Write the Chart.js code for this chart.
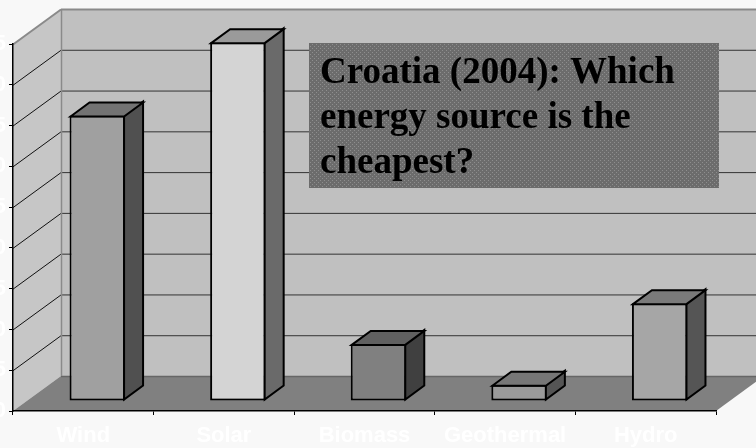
<!DOCTYPE html>
<html>
<head>
<meta charset="utf-8">
<title>Croatia (2004): Which energy source is the cheapest?</title>
<script src="https://cdn.jsdelivr.net/npm/chart.js@4.4.1/dist/chart.umd.min.js"></script>
<style>
    html, body { margin: 0; padding: 0; background: #f8f8f8; }
    #wrap { width: 756px; height: 448px; }
</style>
</head>
<body>
<div id="wrap"><canvas id="chart-1" width="756" height="448"></canvas></div>
<script>
var categories = ['Wind', 'Solar', 'Biomass', 'Geothermal', 'Hydro'];
var costValues = [35, 44, 7, 2, 12];
var tickValues = [0, 5, 10, 15, 20, 25, 30, 35, 40, 45];
var titleLines = ['Croatia (2004): Which', 'energy source is the', 'cheapest?'];

// face colours of the 3d columns
var frontColors = ['#a0a0a0', '#d4d4d4', '#808080', '#9a9a9a', '#a6a6a6'];
var sideColors = ['#505050', '#6a6a6a', '#404040', '#555555', '#555555'];
var topColors = ['#737373', '#9a9a9a', '#606060', '#777777', '#7a7a7a'];

var depth = { dx: 48, dy: -35 };     // floor depth, front edge -> back wall
var barShift = { dx: 14, dy: -10 };  // columns stand a bit behind the front edge
var barDepth = { dx: 19, dy: -14 };

function poly(ctx, pts, fill, stroke, lw) {
    ctx.beginPath();
    ctx.moveTo(pts[0][0], pts[0][1]);
    for (var i = 1; i < pts.length; i++) {
        ctx.lineTo(pts[i][0], pts[i][1]);
    }
    ctx.closePath();
    if (fill) {
        ctx.fillStyle = fill;
        ctx.fill();
    }
    if (stroke) {
        ctx.strokeStyle = stroke;
        ctx.lineWidth = lw || 1;
        ctx.stroke();
    }
}

function line(ctx, x1, y1, x2, y2, color, lw) {
    ctx.beginPath();
    ctx.moveTo(x1, y1);
    ctx.lineTo(x2, y2);
    ctx.strokeStyle = color;
    ctx.lineWidth = lw || 1;
    ctx.stroke();
}

var roomPlugin = {
    id: 'room',
    beforeDraw: function (chart) {
        var ctx = chart.ctx,
            a = chart.chartArea,
            yScale = chart.scales.y;

        ctx.save();
        ctx.fillStyle = '#f8f8f8';
        ctx.fillRect(0, 0, chart.width, chart.height);

        // back wall, left wall, floor
        ctx.fillStyle = '#c0c0c0';
        ctx.fillRect(a.left + depth.dx, a.top + depth.dy, a.right - a.left + 10, a.bottom - a.top);
        poly(ctx, [[a.left, a.top], [a.left + depth.dx, a.top + depth.dy],
            [a.left + depth.dx, a.bottom + depth.dy], [a.left, a.bottom]], '#c6c6c6');
        poly(ctx, [[a.left, a.bottom], [a.left + depth.dx, a.bottom + depth.dy],
            [a.right + depth.dx, a.bottom + depth.dy], [a.right, a.bottom]], '#808080');

        yScale.ticks.forEach(function (t) {
            var py = yScale.getPixelForValue(t.value) + 0.5;
            if (t.value === yScale.min) {
                line(ctx, a.left + depth.dx, py + depth.dy, a.right + depth.dx + 10, py + depth.dy, '#666666', 1.5);
            } else if (t.value === yScale.max) {
                line(ctx, a.left + depth.dx, py + depth.dy, a.right + depth.dx + 10, py + depth.dy, '#8a8a8a', 2);
                line(ctx, a.left, py, a.left + depth.dx, py + depth.dy, '#8a8a8a', 2);
            } else {
                line(ctx, a.left + depth.dx, py + depth.dy, a.right + depth.dx + 10, py + depth.dy, '#333333', 1);
                line(ctx, a.left, py, a.left + depth.dx, py + depth.dy, '#111111', 1);
            }
        });
        line(ctx, a.left + depth.dx + 0.5, a.top + depth.dy, a.left + depth.dx + 0.5, a.bottom + depth.dy, '#8a8a8a', 1.5);
        ctx.restore();
    },
    beforeDatasetsDraw: function (chart) {
        chart.ctx.save();
        chart.ctx.translate(barShift.dx, barShift.dy);
    },
    afterDatasetsDraw: function (chart) {
        var ctx = chart.ctx,
            meta = chart.getDatasetMeta(0);

        ctx.lineJoin = 'miter';
        meta.data.forEach(function (bar, i) {
            var p = bar.getProps(['x', 'y', 'base', 'width'], true),
                l = p.x - p.width / 2,
                r = p.x + p.width / 2,
                t = p.y,
                b = p.base,
                dx = barDepth.dx,
                dy = barDepth.dy;

            poly(ctx, [[r - 1, t], [r - 1 + dx, t + dy], [r - 1 + dx, b - 1 + dy], [r - 1, b - 1]], sideColors[i], '#000000', 2);
            poly(ctx, [[l + 1, t + 1], [l + 1 + dx, t + 1 + dy], [r - 1 + dx, t + 1 + dy], [r - 1, t + 1]], topColors[i], '#000000', 2);
        });
        ctx.restore();
    },
    afterDraw: function (chart) {
        var ctx = chart.ctx,
            box = { x: 309, y: 43, w: 410, h: 145 };

        var tile = document.createElement('canvas');
        tile.width = 4;
        tile.height = 4;
        var tctx = tile.getContext('2d');
        tctx.fillStyle = '#6c6c6c';
        tctx.fillRect(0, 0, 4, 4);
        tctx.fillStyle = '#8e8e8e';
        tctx.fillRect(0, 0, 1, 1);
        tctx.fillRect(2, 2, 1, 1);

        ctx.save();
        ctx.fillStyle = ctx.createPattern(tile, 'repeat');
        ctx.fillRect(box.x, box.y, box.w, box.h);

        ctx.fillStyle = '#000000';
        ctx.font = 'bold 37px "Liberation Serif", "Times New Roman", serif';
        ctx.textBaseline = 'alphabetic';
        ctx.textAlign = 'left';
        titleLines.forEach(function (txt, i) {
            ctx.fillText(txt, box.x + 11, box.y + 40 + i * 45);
        });
        ctx.restore();
    }
};

var labelFont = { family: 'Arial, "Liberation Sans", sans-serif', size: 22, weight: 'bold' };

new Chart('chart-1', {
    type: 'bar',
    data: {
        labels: categories,
        datasets: [{
            label: 'Cost',
            data: costValues,
            backgroundColor: frontColors,
            borderColor: '#000000',
            borderWidth: 2,
            borderSkipped: false,
            barPercentage: 0.395,
            categoryPercentage: 1
        }]
    },
    options: {
        responsive: false,
        animation: false,
        layout: {
            padding: { top: 44, right: 40, bottom: 0, left: 0 }
        },
        plugins: {
            legend: { display: false },
            tooltip: { enabled: false },
            title: { display: false }
        },
        scales: {
            x: {
                afterFit: function (scale) { scale.height = 37; },
                grid: { drawOnChartArea: false, tickLength: 4, color: '#000000', offset: true },
                border: { color: '#000000', width: 1.5 },
                ticks: { color: '#ffffff', font: labelFont, padding: 8, maxRotation: 0, autoSkip: false }
            },
            y: {
                min: tickValues[0],
                max: tickValues[tickValues.length - 1],
                afterFit: function (scale) { scale.width = 13; },
                afterBuildTicks: function (scale) {
                    scale.ticks = tickValues.map(function (v) { return { value: v }; });
                },
                grid: { drawOnChartArea: false, tickLength: 4, color: '#000000' },
                border: { color: '#000000', width: 1.5 },
                ticks: { color: '#ffffff', font: labelFont, padding: 3 }
            }
        }
    },
    plugins: [roomPlugin]
});
</script>
</body>
</html>
